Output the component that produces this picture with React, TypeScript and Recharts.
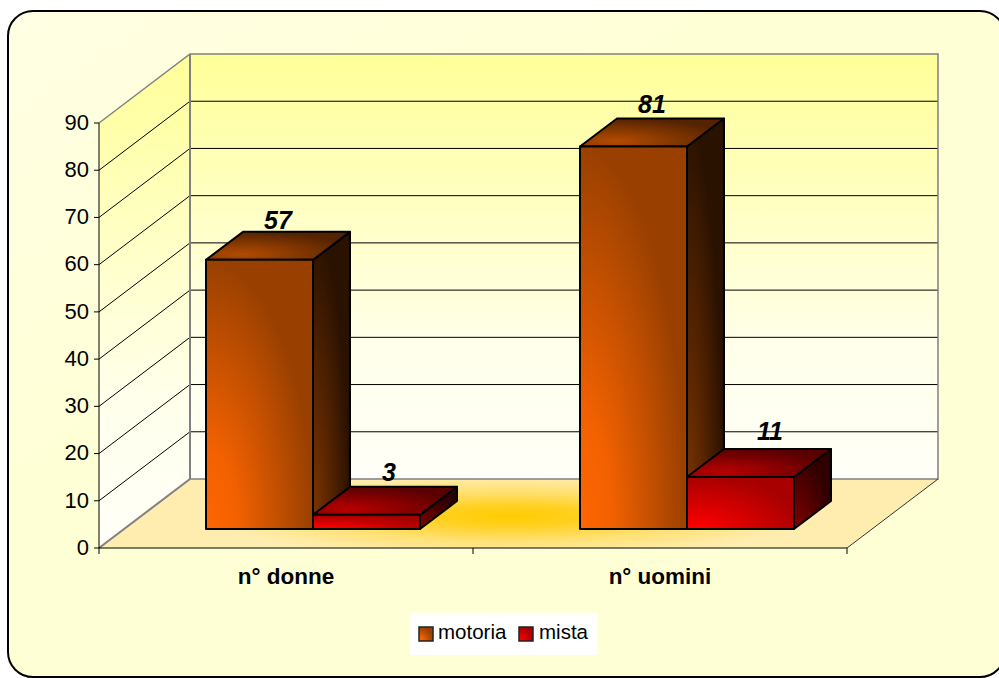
import React from 'react';
import { BarChart, Bar, XAxis, YAxis, Legend, LabelList, usePlotArea } from 'recharts';

const categories = ['n° donne', 'n° uomini'];
const motoria = [57, 81];
const mista = [3, 11];
const yTicks = [0, 10, 20, 30, 40, 50, 60, 70, 80, 90];

const chartData = categories.map((name, i) => ({ name, motoria: motoria[i], mista: mista[i] }));

const FONT = '"Liberation Sans", Arial, sans-serif';
// depth of the "3D" box around the plot and of each bar
const WALL_DX = 91;
const WALL_DY = -69;
const BAR_SHIFT_X = 27;
const BAR_SHIFT_Y = -19;
const BAR_DX = 37;
const BAR_DY = -28;

// label tweaks, the original labels drift a little from the bar centre
const labelNudge: Record<string, number[][]> = {
    motoria: [[0, -3], [0, -6]],
    mista: [[4, -6], [11, -9]],
};

const Stops = ({ stops }: { stops: [string, string][] }) => (
    <>
        {stops.map(([o, c]) => <stop key={o} offset={o} stopColor={c} />)}
    </>
);

const Gradients = () => (
    <defs>
        <linearGradient id="pageBg" x1="0" y1="0" x2="0.4" y2="0.4">
            <Stops stops={[['0%', '#FFFFE4'], ['100%', '#FFFFD5']]} />
        </linearGradient>
        <linearGradient id="wall" x1="0" y1="0" x2="0" y2="1">
            <Stops stops={[['0%', '#FFFF99'], ['70%', '#FFFFEC'], ['100%', '#FFFFF8']]} />
        </linearGradient>
        <radialGradient id="floor" gradientUnits="userSpaceOnUse" cx="0" cy="0" r="1" gradientTransform="translate(510 516) scale(300 40)">
            <Stops stops={[['0%', '#FFCC00'], ['25%', '#FFD020'], ['60%', '#FFE070'], ['100%', '#FFEDB0']]} />
        </radialGradient>

        <radialGradient id="motoriaFront" cx="0" cy="1" r="1">
            <Stops stops={[['0%', '#FF6600'], ['30%', '#F26100'], ['100%', '#994000']]} />
        </radialGradient>
        <radialGradient id="motoriaTop" cx="0.25" cy="0.8" r="0.8">
            <Stops stops={[['0%', '#B34B00'], ['100%', '#552300']]} />
        </radialGradient>
        <radialGradient id="motoriaSide" cx="0" cy="1" r="1">
            <Stops stops={[['0%', '#803500'], ['100%', '#2A1200']]} />
        </radialGradient>

        <radialGradient id="mistaFront" cx="0.1" cy="1" r="1">
            <Stops stops={[['0%', '#FF0000'], ['100%', '#A80000']]} />
        </radialGradient>
        <radialGradient id="mistaTop" cx="0.25" cy="0.8" r="0.8">
            <Stops stops={[['0%', '#B80000'], ['100%', '#5A0000']]} />
        </radialGradient>
        <radialGradient id="mistaSide" cx="0" cy="1" r="1">
            <Stops stops={[['0%', '#800000'], ['100%', '#300000']]} />
        </radialGradient>
    </defs>
);

// page frame, walls, floor and grid
const Walls = () => {
    const plot = usePlotArea();
    if (!plot) return null;
    const left = plot.x;
    const right = plot.x + plot.width;
    const top = plot.y;
    const bottom = plot.y + plot.height;
    const yOf = (v: number) => bottom - (v / 90) * plot.height;
    const mid = (left + right) / 2;

    return (
        <g>
            <rect x={8} y={11} width={997} height={666} rx={25} ry={25} fill="url(#pageBg)" stroke="#000" strokeWidth={2} />
            <polygon
                points={`${left},${bottom} ${left + WALL_DX},${bottom + WALL_DY} ${left + WALL_DX},${top + WALL_DY} ${left},${top}`}
                fill="url(#wall)"
            />
            <rect x={left + WALL_DX} y={top + WALL_DY} width={plot.width} height={plot.height} fill="url(#wall)" />
            <polygon
                points={`${left},${bottom} ${right},${bottom} ${right + WALL_DX},${bottom + WALL_DY} ${left + WALL_DX},${bottom + WALL_DY}`}
                fill="url(#floor)"
            />
            {yTicks.filter((t) => t > 0 && t < 90).map((t) => (
                <polyline
                    key={t}
                    points={`${left},${yOf(t)} ${left + WALL_DX},${yOf(t) + WALL_DY} ${right + WALL_DX},${yOf(t) + WALL_DY}`}
                    fill="none"
                    stroke="#000"
                    strokeWidth={1}
                />
            ))}
            <polyline
                points={`${left},${top} ${left + WALL_DX},${top + WALL_DY} ${right + WALL_DX},${top + WALL_DY} ${right + WALL_DX},${bottom + WALL_DY} ${left + WALL_DX},${bottom + WALL_DY}`}
                fill="none"
                stroke="#808080"
                strokeWidth={1.5}
            />
            <line x1={left + WALL_DX} y1={top + WALL_DY} x2={left + WALL_DX} y2={bottom + WALL_DY} stroke="#808080" strokeWidth={2} />
            <line x1={left} y1={bottom} x2={left + WALL_DX} y2={bottom + WALL_DY} stroke="#808080" strokeWidth={2} />
            <line x1={right} y1={bottom} x2={right + WALL_DX} y2={bottom + WALL_DY} stroke="#333" strokeWidth={1} />
            {[left, mid, right].map((x) => (
                <line key={x} x1={x} y1={bottom} x2={x} y2={bottom + 6} stroke="#000" strokeWidth={1} />
            ))}
        </g>
    );
};

const Box3D = (props: any) => {
    const { x, y, width, height, series } = props;
    const fx = x + BAR_SHIFT_X;
    const fy = y + BAR_SHIFT_Y;
    const topFace = `${fx},${fy} ${fx + BAR_DX},${fy + BAR_DY} ${fx + width + BAR_DX},${fy + BAR_DY} ${fx + width},${fy}`;
    const sideFace = `${fx + width},${fy} ${fx + width + BAR_DX},${fy + BAR_DY} ${fx + width + BAR_DX},${fy + height + BAR_DY} ${fx + width},${fy + height}`;
    return (
        <g stroke="#000" strokeWidth={2} strokeLinejoin="round">
            <polygon points={sideFace} fill={`url(#${series}Side)`} />
            <polygon points={topFace} fill={`url(#${series}Top)`} />
            <rect x={fx} y={fy} width={width} height={height} fill={`url(#${series}Front)`} />
        </g>
    );
};

const barLabel = (series: string) => (props: any) => {
    const { x, y, width, value, index } = props;
    const [nx, ny] = labelNudge[series][index];
    return (
        <text
            x={x + width / 2 + BAR_SHIFT_X + BAR_DX / 2 + nx}
            y={y + BAR_SHIFT_Y + BAR_DY + ny}
            textAnchor="middle"
            fontFamily={FONT}
            fontSize={25}
            fontWeight="bold"
            fontStyle="italic"
            fill="#000"
        >
            {value}
        </text>
    );
};

const LegendBox = ({ payload }: any) => (
    <div style={{ width: 187, height: 42, background: '#fff', position: 'relative', fontFamily: FONT, fontSize: 20.5, color: '#000' }}>
        {(payload || []).map((item: any, i: number) => (
            <React.Fragment key={item.value}>
                <svg width={16} height={16} style={{ position: 'absolute', left: i === 0 ? 8 : 108, top: 13 }}>
                    <rect x={1} y={1} width={14} height={14} fill={`url(#${item.dataKey}Front)`} stroke="#222" strokeWidth={1.5} />
                </svg>
                <span style={{ position: 'absolute', left: i === 0 ? 28 : 129, top: 6, lineHeight: '26px' }}>{item.value}</span>
            </React.Fragment>
        ))}
    </div>
);

export default function App() {
    return (
        <div style={{ position: 'absolute', left: 0, top: 0, width: 999, height: 678, overflow: 'hidden', background: '#fff' }}>
            <BarChart
                width={999}
                height={678}
                data={chartData}
                barSize={107}
                barGap={0}
                margin={{ top: 123, right: 152, bottom: 38, left: 39 }}
            >
                <Gradients />
                <Walls />
                <XAxis
                    dataKey="name"
                    height={50}
                    axisLine={{ stroke: '#000' }}
                    tickLine={false}
                    tickMargin={14}
                    tick={{ fill: '#000', fontSize: 22.5, fontWeight: 'bold', fontFamily: FONT }}
                />
                <YAxis
                    width={60}
                    domain={[0, 90]}
                    ticks={yTicks}
                    interval={0}
                    axisLine={{ stroke: '#000' }}
                    tickLine={{ stroke: '#000' }}
                    tickSize={5}
                    tickMargin={5}
                    tick={{ fill: '#000', fontSize: 22, fontFamily: FONT, dy: -1 }}
                />
                <Legend
                    content={<LegendBox />}
                    itemSorter={null}
                    wrapperStyle={{ position: 'absolute', left: 410, top: 613, width: 187, height: 42, bottom: 'auto' }}
                />
                <Bar dataKey="motoria" name="motoria" isAnimationActive={false} shape={<Box3D series="motoria" />}>
                    <LabelList dataKey="motoria" content={barLabel('motoria')} />
                </Bar>
                <Bar dataKey="mista" name="mista" isAnimationActive={false} shape={<Box3D series="mista" />}>
                    <LabelList dataKey="mista" content={barLabel('mista')} />
                </Bar>
            </BarChart>
        </div>
    );
}
